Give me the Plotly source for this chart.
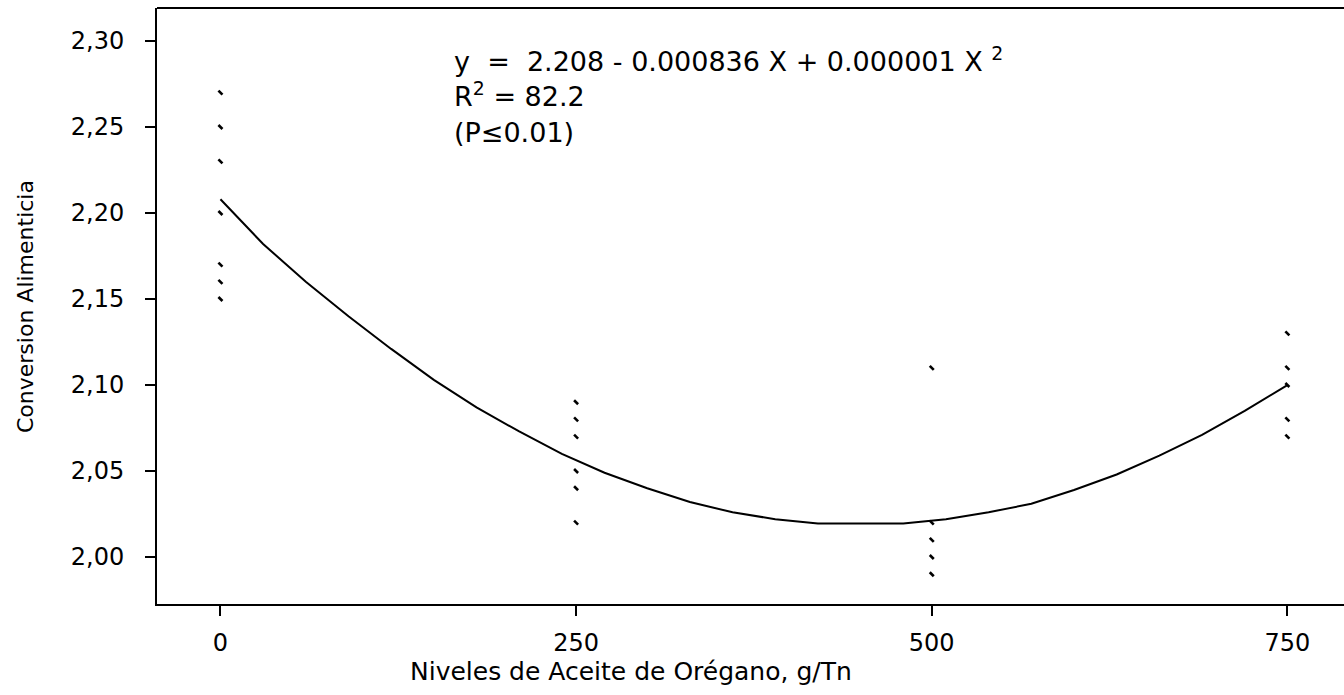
import plotly.graph_objects as go

# Observed data (g/Tn of oregano oil vs feed conversion)
obs_x = [0, 0, 0, 0, 0, 0, 0,
         250, 250, 250, 250, 250, 250,
         500, 500, 500, 500, 500,
         750, 750, 750, 750, 750]
obs_y = [2.27, 2.25, 2.23, 2.20, 2.17, 2.16, 2.15,
         2.09, 2.08, 2.07, 2.05, 2.04, 2.02,
         2.11, 2.02, 2.01, 2.00, 1.99,
         2.13, 2.11, 2.10, 2.08, 2.07]

# Fitted curve
fit_x = [0, 30, 60, 90, 120, 150, 180, 210, 240, 270, 300, 330, 360, 390,
         420, 450, 480, 510, 540, 570, 600, 630, 660, 690, 720, 750]
fit_y = [2.208, 2.182, 2.160, 2.140, 2.121, 2.103, 2.087, 2.073, 2.060, 2.049,
         2.040, 2.032, 2.026, 2.022, 2.0195, 2.0195, 2.0195, 2.022, 2.026, 2.031,
         2.039, 2.048, 2.059, 2.071, 2.085, 2.100]

x_ticks = [0, 250, 500, 750]
y_ticks = [2.00, 2.05, 2.10, 2.15, 2.20, 2.25, 2.30]

eq_lines = [
    "y\u00a0\u00a0=\u00a0\u00a02.208 - 0.000836 X + 0.000001 X <sup>2</sup>",
    "R<sup>2</sup> = 82.2",
    "(P\u22640.01)",
]
x_title = "Niveles de Aceite de Orégano, g/Tn"
y_title = "Conversion Alimenticia"

W, H = 1344, 695
L, R, T, B = 157, 0, 8, 91
pw, ph = W - L - R, H - T - B

def px_to_paper_x(px):
    return (px - L) / pw

def px_to_paper_y(py):
    return (H - B - py) / ph

FONT = "DejaVu Sans"

fig = go.Figure()
fig.add_trace(go.Scatter(
    x=fit_x, y=fit_y, mode="lines",
    line=dict(color="black", width=2),
    hoverinfo="skip", showlegend=False,
))
fig.add_trace(go.Scatter(
    x=obs_x, y=obs_y, mode="markers",
    marker=dict(symbol="line-nw", size=4, color="black",
                line=dict(color="black", width=2.6)),
    showlegend=False,
))

fig.update_layout(
    width=W, height=H,
    margin=dict(l=L, r=R, t=T, b=B, pad=0),
    paper_bgcolor="white", plot_bgcolor="white",
    separators=",.",
    font=dict(family=FONT, color="black"),
    xaxis=dict(
        range=[-44.6, 789.8], tickvals=x_ticks, ticks="outside",
        ticklen=10, tickwidth=1.5, tickcolor="black",
        showline=True, linecolor="black", linewidth=2,
        showgrid=False, zeroline=False,
        tickfont=dict(family=FONT, size=24, color="black"),
        ticklabelstandoff=6,
    ),
    yaxis=dict(
        range=[1.9727, 2.3192], tickvals=y_ticks, tickformat=".2f",
        ticks="outside", ticklen=10, tickwidth=1.5, tickcolor="black",
        showline=True, linecolor="black", linewidth=2,
        showgrid=False, zeroline=False,
        tickfont=dict(family=FONT, size=24, color="black"),
        ticklabelstandoff=16,
    ),
    shapes=[dict(type="line", xref="paper", yref="paper",
                 x0=0, x1=1, y0=1, y1=1,
                 line=dict(color="black", width=2))],
    annotations=[
        dict(text="<br>".join(eq_lines), xref="paper", yref="paper",
             x=px_to_paper_x(452), y=px_to_paper_y(40),
             xanchor="left", yanchor="top", align="left", showarrow=False,
             font=dict(family=FONT, size=27, color="black")),
        dict(text=x_title, xref="paper", yref="paper",
             x=px_to_paper_x(631), y=px_to_paper_y(671),
             xanchor="center", yanchor="middle", showarrow=False,
             font=dict(family=FONT, size=25, color="black")),
        dict(text=y_title, xref="paper", yref="paper",
             x=px_to_paper_x(25), y=px_to_paper_y(307), textangle=-90,
             xanchor="center", yanchor="middle", showarrow=False,
             font=dict(family=FONT, size=22, color="black")),
    ],
)

fig.write_html("out.html")
